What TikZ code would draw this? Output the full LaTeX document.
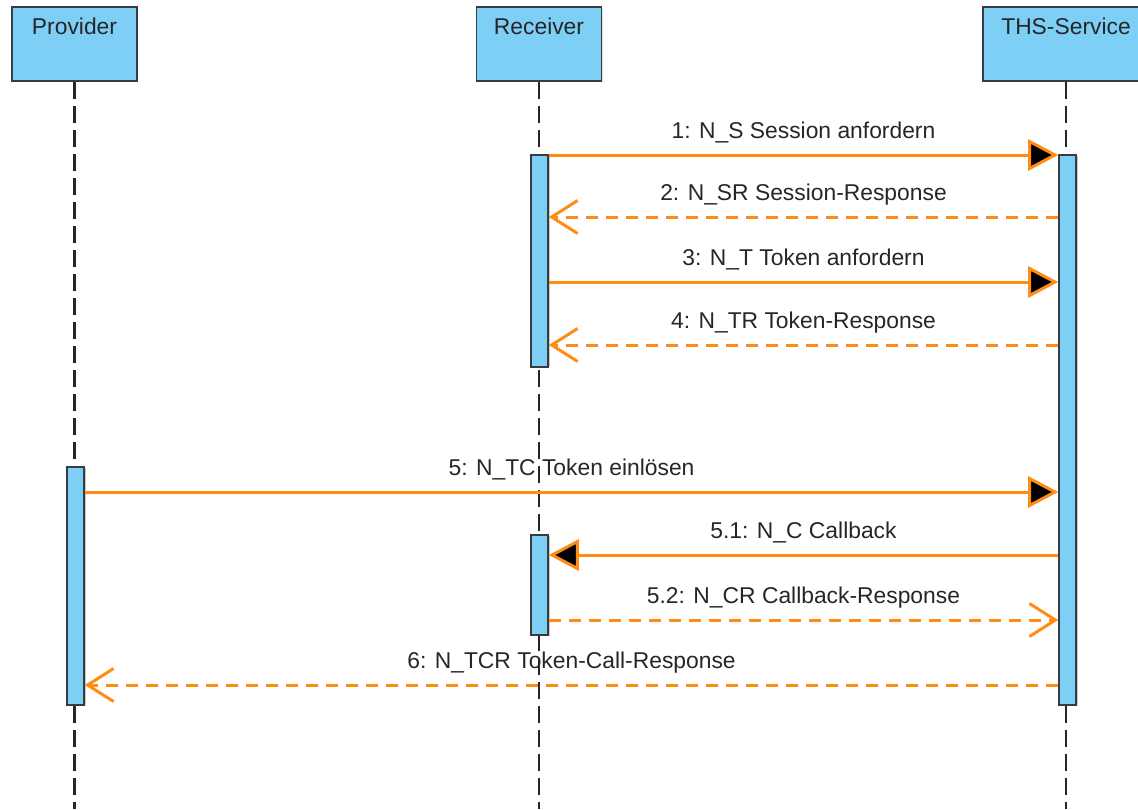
\documentclass[tikz,border=0pt]{standalone}
\usepackage{fontspec}
\setmainfont{Liberation Sans}
\usepackage{xcolor}
\usepackage{tikz}
\usetikzlibrary{calc, arrows.meta, shadows}
\definecolor{msgorange}{RGB}{255,140,20}
\definecolor{boxblue}{RGB}{125,207,245}
\definecolor{boxline}{RGB}{55,60,65}
\tikzset{
    head/.style = {
        draw           = boxline,
        fill           = boxblue,
        line width     = 1pt,
        minimum width  = 2.5cm,
        minimum height = 1.48cm,
        drop shadow    = {shadow xshift=0.03cm, shadow yshift=-0.03cm, opacity=0.25},
    },
    headtxt/.style = {
        anchor    = north,
        yshift    = -3pt,
        text      = black!85,
    },
    bar/.style = {
        draw           = boxline,
        fill           = boxblue,
        line width     = 0.9pt,
        minimum width  = 0.34cm,
        inner sep      = 0pt,
        drop shadow    = {shadow xshift=0.04cm, shadow yshift=-0.01cm, opacity=0.45},
    },
    lifeline/.style = {
        draw         = black!85,
        line width   = 1.2pt,
        dash pattern = on 0.34cm off 0.14cm,
    },
    call/.style = {
        draw       = msgorange,
        line width = 0.06cm,
        -{Triangle[length=0.6cm, width=0.62cm, fill=black]},
    },
    reply/.style = {
        draw         = msgorange,
        line width   = 0.06cm,
        dash pattern = on 0.24cm off 0.16cm,
        -{Straight Barb[length=0.52cm, width=0.66cm]},
    },
    msglabel/.style = {midway, above=2.5pt, text=black!85},
}

\begin{document}
\begin{tikzpicture}[x=0.02cm, y=-0.02cm, every node/.style={font=\fontsize{13}{15}\selectfont}]
    \useasboundingbox (0,0) rectangle (1138,809);
    \clip (0,0) rectangle (1138,809);

    \node at (74.5, 44) (prov) [head, label={[headtxt]north:Provider}] {};
    \node at (539, 44) (recv) [head, label={[headtxt]north:Receiver}] {};
    \node at (1066, 44) (ths) [head, minimum width=3.32cm, label={[headtxt]north:THS-Service}] {};

    \draw [lifeline] (prov.south) -- (prov.south |- 0,809);
    \draw [lifeline] (recv.south) -- (recv.south |- 0,809);
    \draw [lifeline] (ths.south) -- (ths.south |- 0,809);

    \node at (539.5, 261) (recvA) [bar, minimum height=4.24cm] {};
    \node at (1067.5, 430) (thsA) [bar, minimum height=11cm] {};
    \node at (75.5, 586) (provA) [bar, minimum height=4.76cm] {};
    \node at (539.5, 585) (recvB) [bar, minimum height=2cm] {};

    \draw [call] (recvA.east |- 0,155) -- (thsA.west |- 0,155) node [msglabel] {1: N\_S Session anfordern};
    \draw [reply] (thsA.west |- 0,217) -- (recvA.east |- 0,217) node [msglabel] {2: N\_SR Session-Response};
    \draw [call] (recvA.east |- 0,282) -- (thsA.west |- 0,282) node [msglabel] {3: N\_T Token anfordern};
    \draw [reply] (thsA.west |- 0,345) -- (recvA.east |- 0,345) node [msglabel] {4: N\_TR Token-Response};

    \draw [call] (provA.east |- 0,492) -- (thsA.west |- 0,492) node [msglabel] {5: N\_TC Token einlösen};
    \draw [call] (thsA.west |- 0,555) -- (recvB.east |- 0,555) node [msglabel] {5.1: N\_C Callback};
    \draw [reply] (recvB.east |- 0,620) -- (thsA.west |- 0,620) node [msglabel] {5.2: N\_CR Callback-Response};
    \draw [reply] (thsA.west |- 0,685) -- (provA.east |- 0,685) node [msglabel] {6: N\_TCR Token-Call-Response};
\end{tikzpicture}
\end{document}
